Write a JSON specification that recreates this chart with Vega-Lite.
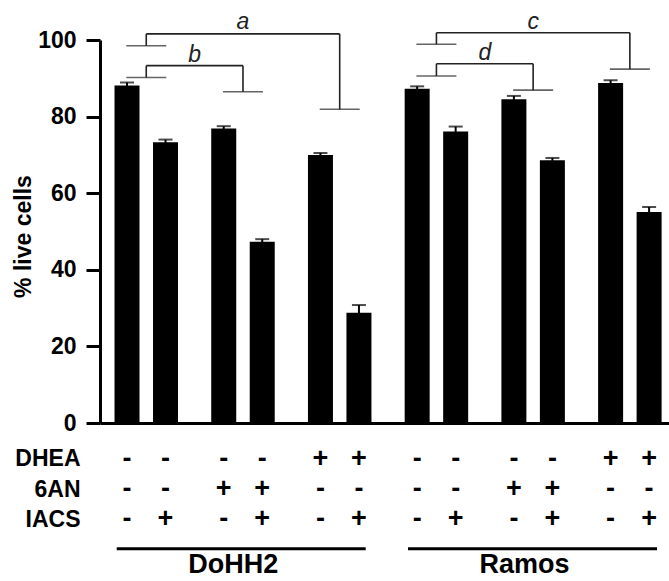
{
  "$schema": "https://vega.github.io/schema/vega-lite/v6.json",
  "padding": {"left": 12, "top": 10, "right": 0, "bottom": 0},
  "spacing": 10,
  "bounds": "flush",
  "config": {
    "view": {"stroke": null},
    "font": "Liberation Sans",
    "axis": {"labelFont": "Liberation Sans", "titleFont": "Liberation Sans"},
    "text": {"font": "Liberation Sans"}
  },
  "resolve": {"scale": {"x": "independent", "y": "independent", "xOffset": "independent"}},
  "datasets": {
    "bars": [
      {"cell": "DoHH2", "pair": "DoHH2 ctrl", "DHEA": "-", "6AN": "-", "IACS": "-", "live": 88.1, "sem": 0.8},
      {"cell": "DoHH2", "pair": "DoHH2 ctrl", "DHEA": "-", "6AN": "-", "IACS": "+", "live": 73.3, "sem": 0.7},
      {"cell": "DoHH2", "pair": "DoHH2 6AN", "DHEA": "-", "6AN": "+", "IACS": "-", "live": 76.9, "sem": 0.6},
      {"cell": "DoHH2", "pair": "DoHH2 6AN", "DHEA": "-", "6AN": "+", "IACS": "+", "live": 47.3, "sem": 0.7},
      {"cell": "DoHH2", "pair": "DoHH2 DHEA", "DHEA": "+", "6AN": "-", "IACS": "-", "live": 70.0, "sem": 0.5},
      {"cell": "DoHH2", "pair": "DoHH2 DHEA", "DHEA": "+", "6AN": "-", "IACS": "+", "live": 28.8, "sem": 2.0},
      {"cell": "Ramos", "pair": "Ramos ctrl", "DHEA": "-", "6AN": "-", "IACS": "-", "live": 87.3, "sem": 0.6},
      {"cell": "Ramos", "pair": "Ramos ctrl", "DHEA": "-", "6AN": "-", "IACS": "+", "live": 76.1, "sem": 1.3},
      {"cell": "Ramos", "pair": "Ramos 6AN", "DHEA": "-", "6AN": "+", "IACS": "-", "live": 84.5, "sem": 0.9},
      {"cell": "Ramos", "pair": "Ramos 6AN", "DHEA": "-", "6AN": "+", "IACS": "+", "live": 68.6, "sem": 0.6},
      {"cell": "Ramos", "pair": "Ramos DHEA", "DHEA": "+", "6AN": "-", "IACS": "-", "live": 88.8, "sem": 0.7},
      {"cell": "Ramos", "pair": "Ramos DHEA", "DHEA": "+", "6AN": "-", "IACS": "+", "live": 55.1, "sem": 1.3}
    ],
    "brackets": [
      {"label": "a", "span": "long", "from": "DoHH2 ctrl", "to": "DoHH2 DHEA", "mid": "DoHH2 6AN", "top": 101.6, "footL": 98.5, "footR": 81.9, "labelY": 102.9},
      {"label": "b", "span": "short", "from": "DoHH2 ctrl", "to": "DoHH2 6AN", "mid": null, "top": 93.3, "footL": 90.2, "footR": 86.5, "labelY": 94.3},
      {"label": "c", "span": "long", "from": "Ramos ctrl", "to": "Ramos DHEA", "mid": "Ramos 6AN", "top": 101.9, "footL": 98.9, "footR": 92.4, "labelY": 103.0},
      {"label": "d", "span": "short", "from": "Ramos ctrl", "to": "Ramos 6AN", "mid": null, "top": 93.8, "footL": 90.6, "footR": 86.9, "labelY": 94.9}
    ]
  },
  "vconcat": [
    {
      "width": 569,
      "height": 383,
      "layer": [
        {
          "data": {"name": "bars"},
          "mark": {"type": "bar", "color": "black"},
          "encoding": {
            "x": {
              "field": "pair", "type": "nominal", "title": null,
              "scale": {"type": "band", "domain": ["DoHH2 ctrl", "DoHH2 6AN", "DoHH2 DHEA", "Ramos ctrl", "Ramos 6AN", "Ramos DHEA"], "paddingInner": 0.204, "paddingOuter": 0.0435, "align": 0.923, "round": false},
              "axis": {"labels": false, "ticks": false, "title": null, "domain": true, "domainColor": "black", "domainWidth": 3}
            },
            "xOffset": {"field": "IACS", "type": "nominal", "scale": {"type": "band", "domain": ["-", "+"], "paddingInner": 0.3506, "paddingOuter": 0.1753, "round": false}},
            "y": {
              "field": "live", "type": "quantitative", "title": "% live cells",
              "scale": {"domain": [0, 100], "nice": false},
              "axis": {
                "values": [0, 20, 40, 60, 80, 100], "grid": false,
                "tickSize": 14, "tickWidth": 3, "tickColor": "black",
                "domainWidth": 3, "domainColor": "black",
                "labelFontSize": 23, "labelFontWeight": "bold", "labelColor": "black", "labelPadding": 10,
                "title": "% live cells", "titleFontSize": 23, "titleFontWeight": "bold", "titleColor": "black",
                "titleX": -77, "titleY": 196, "titleAngle": 270, "titleAlign": "center", "titleBaseline": "middle"
              }
            }
          }
        },
        {
          "data": {"name": "bars"},
          "mark": {"type": "errorbar", "thickness": 2, "color": "black", "ticks": {"size": 14, "thickness": 2, "color": "black"}},
          "encoding": {
            "x": {"field": "pair", "type": "nominal", "title": null},
            "xOffset": {"field": "IACS", "type": "nominal"},
            "y": {"field": "live", "type": "quantitative", "title": "% live cells"},
            "yError": {"field": "sem"}
          }
        },
        {
          "data": {"name": "brackets"},
          "mark": {"type": "rule", "color": "#222", "strokeWidth": 1.6},
          "encoding": {
            "x": {"field": "from", "type": "nominal", "bandPosition": 0.5, "title": null},
            "x2": {"field": "to", "bandPosition": 0.5},
            "y": {"field": "top", "type": "quantitative", "title": "% live cells"}
          }
        },
        {
          "data": {"name": "brackets"},
          "mark": {"type": "rule", "color": "#222", "strokeWidth": 1.6},
          "encoding": {
            "x": {"field": "from", "type": "nominal", "bandPosition": 0.5, "title": null},
            "y": {"field": "top", "type": "quantitative", "title": "% live cells"},
            "y2": {"field": "footL"}
          }
        },
        {
          "data": {"name": "brackets"},
          "mark": {"type": "rule", "color": "#222", "strokeWidth": 1.6},
          "encoding": {
            "x": {"field": "to", "type": "nominal", "bandPosition": 0.5, "title": null},
            "y": {"field": "top", "type": "quantitative", "title": "% live cells"},
            "y2": {"field": "footR"}
          }
        },
        {
          "data": {"name": "brackets"},
          "mark": {"type": "tick", "orient": "horizontal", "size": 40, "thickness": 1.6, "color": "#222"},
          "encoding": {
            "x": {"field": "from", "type": "nominal", "title": null},
            "y": {"field": "footL", "type": "quantitative", "title": "% live cells"}
          }
        },
        {
          "data": {"name": "brackets"},
          "mark": {"type": "tick", "orient": "horizontal", "size": 40, "thickness": 1.6, "color": "#222"},
          "encoding": {
            "x": {"field": "to", "type": "nominal", "title": null},
            "y": {"field": "footR", "type": "quantitative", "title": "% live cells"}
          }
        },
        {
          "data": {"name": "brackets"},
          "transform": [{"filter": "datum.span == 'long'"}],
          "mark": {"type": "text", "fontSize": 23, "fontStyle": "italic", "color": "#222", "baseline": "alphabetic"},
          "encoding": {
            "x": {"field": "mid", "type": "nominal", "bandPosition": 0.5, "title": null},
            "y": {"field": "labelY", "type": "quantitative", "title": "% live cells"},
            "text": {"field": "label"}
          }
        },
        {
          "data": {"name": "brackets"},
          "transform": [{"filter": "datum.span == 'short'"}],
          "mark": {"type": "text", "fontSize": 23, "fontStyle": "italic", "color": "#222", "baseline": "alphabetic"},
          "encoding": {
            "x": {"field": "from", "type": "nominal", "bandPosition": 1.128, "title": null},
            "y": {"field": "labelY", "type": "quantitative", "title": "% live cells"},
            "text": {"field": "label"}
          }
        }
      ]
    },
    {
      "width": 569,
      "height": 100,
      "data": {"name": "bars"},
      "transform": [{"fold": ["DHEA", "6AN", "IACS"], "as": ["agent", "sign"]}],
      "mark": {"type": "text", "fontSize": 27, "fontWeight": "bold", "color": "black"},
      "encoding": {
        "x": {
          "field": "pair", "type": "nominal", "axis": null,
          "scale": {"type": "band", "domain": ["DoHH2 ctrl", "DoHH2 6AN", "DoHH2 DHEA", "Ramos ctrl", "Ramos 6AN", "Ramos DHEA"], "paddingInner": 0.204, "paddingOuter": 0.0435, "align": 0.923, "round": false}
        },
        "xOffset": {"field": "IACS", "type": "nominal", "scale": {"type": "band", "domain": ["-", "+"], "paddingInner": 0.3506, "paddingOuter": 0.1753, "round": false}},
        "y": {
          "field": "agent", "type": "nominal",
          "scale": {"domain": ["DHEA", "6AN", "IACS"], "padding": 0.653, "align": 0.658},
          "axis": {"title": null, "domain": false, "ticks": false, "tickSize": 0, "labelFontSize": 23, "labelFontWeight": "bold", "labelColor": "black", "labelPadding": 20}
        },
        "text": {"field": "sign"}
      }
    },
    {
      "width": 569,
      "height": 38,
      "data": {"name": "bars"},
      "transform": [{"aggregate": [], "groupby": ["cell"]}],
      "layer": [
        {
          "mark": {"type": "rule", "color": "black", "strokeWidth": 3},
          "encoding": {
            "x": {
              "field": "cell", "type": "nominal", "bandPosition": 0, "axis": null,
              "scale": {"type": "band", "domain": ["DoHH2", "Ramos"], "paddingInner": 0.1452, "paddingOuter": 0.0493, "align": 0.582, "round": false}
            },
            "x2": {"field": "cell", "bandPosition": 1},
            "y": {"datum": "underline", "type": "nominal", "axis": null, "scale": {"domain": ["underline", "name"], "padding": 0.364, "align": 0.0625}}
          }
        },
        {
          "mark": {"type": "text", "fontSize": 27, "fontWeight": "bold", "color": "black", "dx": -8},
          "encoding": {
            "x": {"field": "cell", "type": "nominal", "axis": null},
            "y": {"datum": "name", "type": "nominal", "axis": null},
            "text": {"field": "cell"}
          }
        }
      ]
    }
  ]
}
